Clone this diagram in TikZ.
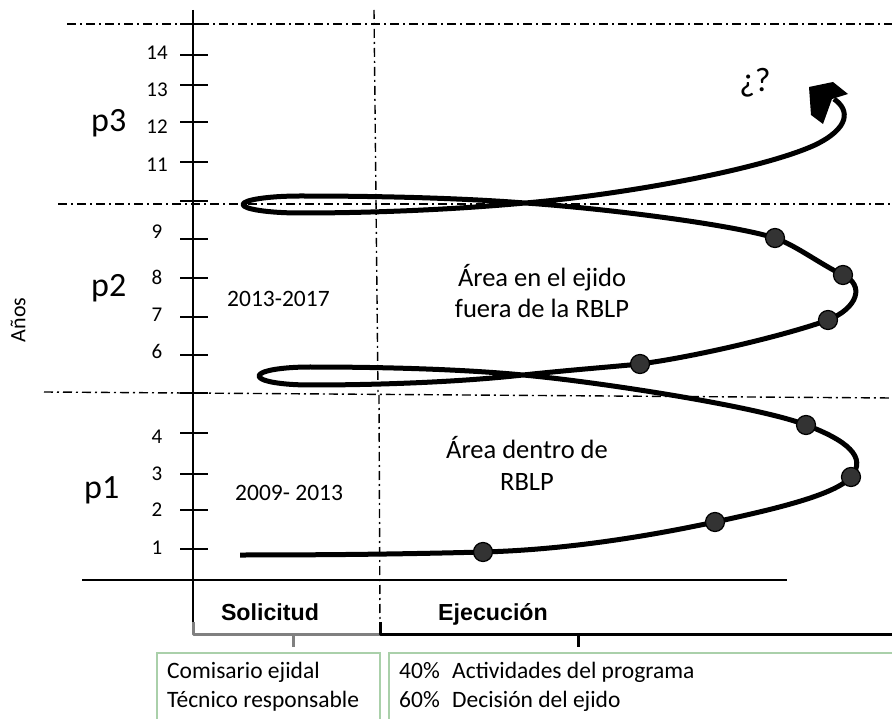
\documentclass[tikz,border=0pt]{standalone}
\usepackage{fontspec}
\setmainfont{Carlito}
\newfontfamily\arialfont{Liberation Sans}
\definecolor{boxgreen}{RGB}{170,208,170}
\tikzset{
  dd/.style={line width=1.4pt, dash pattern=on 9pt off 4pt on 2pt off 4pt},
  tk/.style={line width=2pt},
  num/.style={font=\fontsize{21}{24}\selectfont, anchor=base, inner sep=0pt},
  plab/.style={font=\fontsize{34}{40}\selectfont, anchor=base west, inner sep=0pt},
  txt/.style={font=\fontsize{23.5}{28}\selectfont, inner sep=0pt},
  area/.style={font=\fontsize{26.5}{31}\selectfont, inner sep=0pt, anchor=base},
  head/.style={font=\arialfont\bfseries\fontsize{23.2}{28}\selectfont, inner sep=0pt, anchor=base},
  dot/.style={circle, fill=black!80, draw=black, line width=1.2pt, minimum size=19pt, inner sep=0pt},
  spiral/.style={line width=5pt, line join=round},
  boxg/.style={draw=boxgreen, line width=1.4pt},
}
\begin{document}
\begin{tikzpicture}[x=1pt,y=-1pt]
\useasboundingbox (0,0) rectangle (892,719);
\clip (0,0) rectangle (892,719);
% dash-dot guides
\draw[dd] (67,24) -- (892,24);
\draw[dd] (58,204) -- (892,204);
\draw[dd] (44,392) -- (892,398);
\draw[dd] (374,10) -- (378,392);
\draw[dd] (379,395) -- (380,628);
% axes
\coordinate (ytop) at (193,10);
\coordinate (ybot) at (193,628);
\draw[line width=2pt] (ytop) -- (ybot);
\coordinate (xl) at (82,580);
\coordinate (xr) at (787,580);
\draw[line width=1.6pt] (xl) -- (xr);
% ticks
\foreach \y in {24,55,85,122,162,201,239,278,317,355,393,433,474,510,549}
  \draw[tk] (180,\y) -- (208,\y);
% tick labels
\foreach \t/\y in {14/53,13/90,12/127,11/165,9/232,8/278,7/315,6/352,4/436,3/473,2/509,1/547}
  \node[num] (n\t) at (157,\y+7) {\t};
% period labels
\node[plab] (p3) at (91,132) {p3};
\node[plab] (p2) at (91,297) {p2};
\node[plab] (p1) at (84,498) {p1};
\node[font=\fontsize{22}{26}\selectfont, rotate=90, inner sep=0pt] (anos) at (18,320) {Años};
% range labels
\node[txt, anchor=base west] (r2) at (227,307) {2013-2017};
\node[txt, anchor=base west] (r1) at (235,500) {2009- 2013};
\node[area] (a1) at (542,287) {Área en el ejido};
\node[area] (a2) at (542,318) {fuera de la RBLP};
\node[area] (b1) at (527,458) {Área dentro de};
\node[area] (b2) at (527,490) {RBLP};
\node[font=\fontsize{34}{40}\selectfont, anchor=base, inner sep=0pt] (q) at (755,92) {¿?};
% key points of the spiral
\coordinate (s0) at (240,555);
\coordinate (D1) at (483,552);
\coordinate (D2) at (715,522);
\coordinate (D3) at (851,477);
\coordinate (D4) at (806,425);
\coordinate (X1) at (523,375);
\coordinate (D5) at (640,364);
\coordinate (D6) at (828,320);
\coordinate (D7) at (843,275);
\coordinate (D8) at (775,238);
\coordinate (X2) at (525,203);
\coordinate (s9) at (834,99);
% spiral
\draw[spiral] (s0) .. controls (330,555) and (410,554) .. (D1)
  .. controls (560,550) and (640,538) .. (D2)
  .. controls (775,509) and (835,495) .. (D3)
  .. controls (868,457) and (846,440) .. (D4)
  .. controls (760,407) and (600,382) .. (X1)
  .. controls (460,369) and (380,367) .. (310,367)
  .. controls (281,367) and (259,371) .. (259,376)
  .. controls (259,381) and (281,385) .. (310,385)
  .. controls (380,385) and (460,382) .. (X1)
  .. controls (570,370) and (610,367) .. (D5)
  .. controls (700,356) and (790,334) .. (D6)
  .. controls (858,308) and (865,285) .. (D7)
  .. controls (820,264) and (797,246) .. (D8)
  .. controls (730,224) and (600,208) .. (X2)
  .. controls (460,198) and (380,196) .. (300,196)
  .. controls (268,196) and (243,200) .. (243,204.5)
  .. controls (243,209) and (268,213) .. (300,213)
  .. controls (380,213) and (460,209) .. (X2)
  .. controls (620,195) and (760,170) .. (815,145)
  .. controls (850,128) and (850,110) .. (s9);
\fill (809,87) -- (833,82) -- (848,94) -- (832,99) -- (823,124) -- (811,115) -- cycle;
% dots
\foreach \p in {D1,D2,D3,D4,D5,D6,D7,D8}
  \node[dot] (dot\p) at (\p) {};
% headings
\node[head] (sol) at (270,620) {Solicitud};
\node[head, anchor=base west] (eje) at (438,620) {Ejecución};
% brackets
\draw[line width=3pt, black!50, line join=round] (193,622) -- (193,634) -- (380,634) -- (380,628);
\draw[line width=3pt, black!50] (293,634) -- (293,647);
\draw[line width=3pt, line join=round] (380,622) -- (380,634) -- (892,634);
\draw[line width=3pt] (578,634) -- (578,647);
% boxes
\draw[boxg] (157,730) -- (157,653) -- (380,653) -- (380,730);
\draw[boxg] (389,730) -- (389,653) -- (900,653);
\node[txt, anchor=base west] (c1) at (167,678) {Comisario ejidal};
\node[txt, anchor=base west] (c2) at (167,707) {Técnico responsable};
\node[txt, anchor=base west] (e1) at (399,678) {40\%};
\node[txt, anchor=base west] (e2) at (452,678) {Actividades del programa};
\node[txt, anchor=base west] (e3) at (399,707) {60\%};
\node[txt, anchor=base west] (e4) at (452,707) {Decisión del ejido};
\end{tikzpicture}
\end{document}
